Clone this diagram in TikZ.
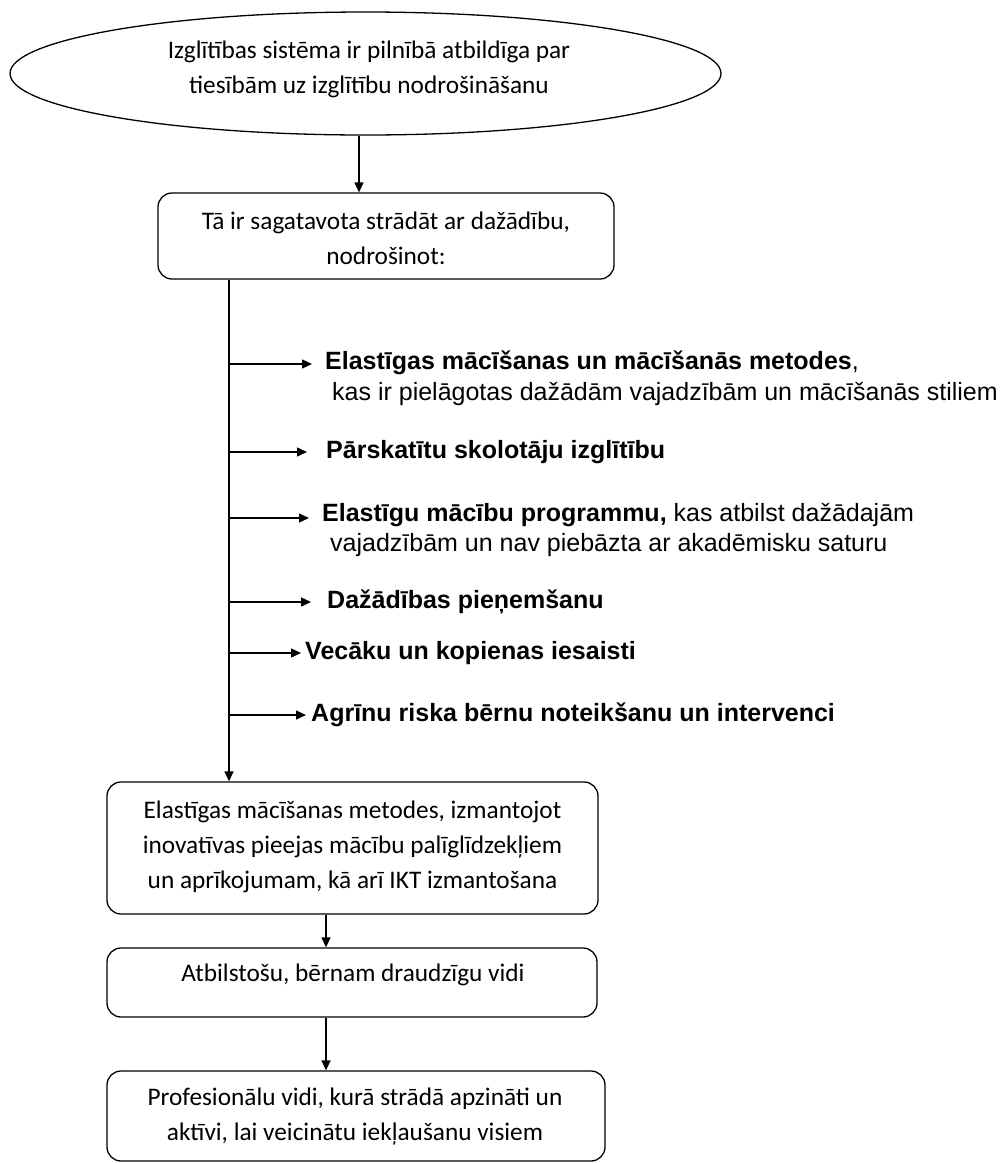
\documentclass[tikz,border=0pt]{standalone}
\usepackage{fontspec}
\setmainfont{Carlito}
\newfontfamily\arialf{Liberation Sans}
\usetikzlibrary{arrows.meta,shapes.geometric}
\begin{document}
\begin{tikzpicture}[x=1pt,y=-1pt,
  conn/.style={line width=1.3pt,-{Triangle[length=10pt,width=9pt]}},
  boxn/.style={draw,line width=1.3pt,rounded corners=14pt,inner sep=0},
  btext/.style={align=center,inner sep=0,font=\fontsize{25.3}{35}\selectfont},
  item/.style={anchor=west,inner sep=0,font=\arialf\fontsize{25}{30}\selectfont}]
\useasboundingbox[fill=white] (0,0) rectangle (1002,1163);
% top ellipse
\node[draw,ellipse,line width=1.3pt,minimum width=711pt,minimum height=123pt,inner sep=0] (top) at (365.5,73.5) {};
\node[btext] (toptxt) at (369,69) {Izglītības sistēma ir pilnībā atbildīga par\\tiesībām uz izglītību nodrošināšanu};
% box 2
\node[boxn,minimum width=456pt,minimum height=86pt] (box2) at (386,236) {};
\node[btext] (box2txt) at (386,238) {Tā ir sagatavota strādāt ar dažādību,\\nodrošinot:};
% box 3
\node[boxn,minimum width=491pt,minimum height=132pt] (box3) at (352.5,848) {};
\node[btext] (box3txt) at (352.5,847) {Elastīgas mācīšanas metodes, izmantojot\\inovatīvas pieejas mācību palīglīdzekļiem\\un aprīkojumam, kā arī IKT izmantošana};
% box 4
\node[boxn,minimum width=490pt,minimum height=69pt] (box4) at (352,982.5) {};
\node[btext] (box4txt) at (353,975) {Atbilstošu, bērnam draudzīgu vidi};
% box 5
\node[boxn,minimum width=498pt,minimum height=90pt] (box5) at (356,1116) {};
\node[btext] (box5txt) at (355,1117) {Profesionālu vidi, kurā strādā apzināti un\\aktīvi, lai veicinātu iekļaušanu visiem};
% connectors
\coordinate (cx1) at (359,0);
\coordinate (vx) at (229,0);
\coordinate (cx2) at (326,0);
\draw[conn] (top.south -| cx1) -- (box2.north -| cx1);
\draw[conn] (box2.south -| vx) -- (box3.north -| vx);
\draw[conn] (box3.south -| cx2) -- (box4.north -| cx2);
\draw[conn] (box4.south -| cx2) -- (box5.north -| cx2);
% branches
\foreach \n/\yy/\tx in {1/364/312,2/452/307,3/518/309,4/602/311,5/653/301,6/715/306}{
  \coordinate (b\n) at (229,\yy);
  \coordinate (t\n) at (\tx,\yy);
  \draw[conn] (b\n) -- (t\n);
}
\node[item] (i1a) at (325,363) {\textbf{Elastīgas mācīšanas un mācīšanās metodes},};
\node[item] (i1b) at (332,394) {kas ir pielāgotas dažādām vajadzībām un mācīšanās stiliem};
\node[item] (i2) at (326,452) {\textbf{Pārskatītu skolotāju izglītību}};
\node[item] (i3a) at (322,515) {\textbf{Elastīgu mācību programmu,} kas atbilst dažādajām};
\node[item] (i3b) at (330,545) {vajadzībām un nav piebāzta ar akadēmisku saturu};
\node[item] (i4) at (327,602) {\textbf{Dažādības pieņemšanu}};
\node[item] (i5) at (305,653) {\textbf{Vecāku un kopienas iesaisti}};
\node[item] (i6) at (311,715) {\textbf{Agrīnu riska bērnu noteikšanu un intervenci}};
\end{tikzpicture}
\end{document}
